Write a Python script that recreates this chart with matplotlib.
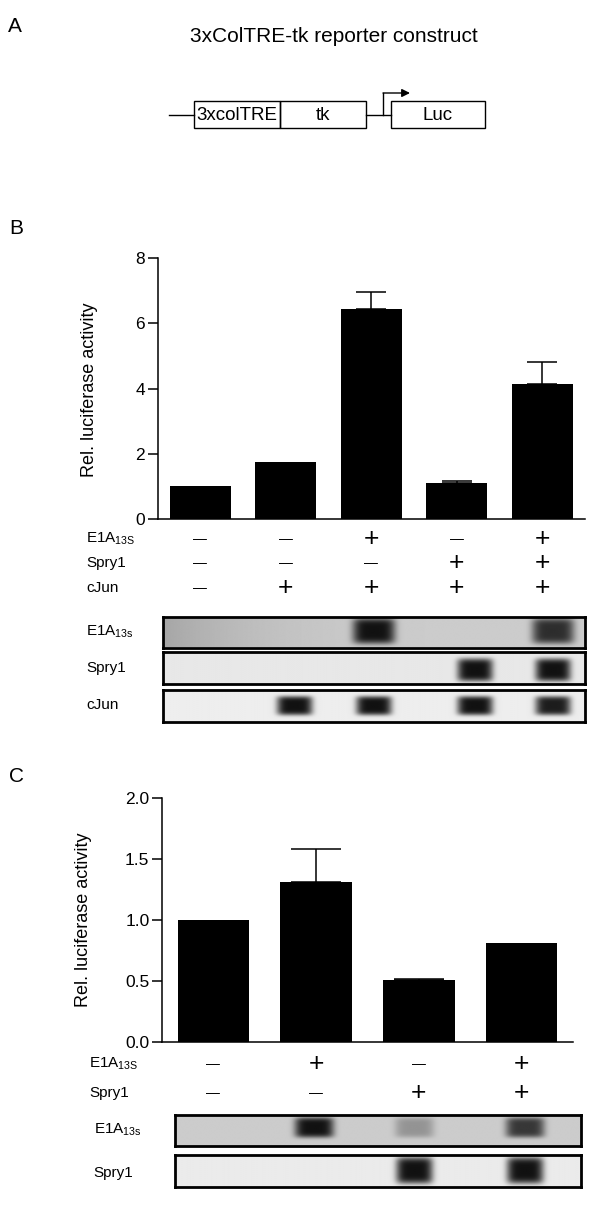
import numpy as np
import matplotlib
matplotlib.use("Agg")
import matplotlib.pyplot as plt
from matplotlib.patches import Rectangle
from matplotlib.transforms import blended_transform_factory

plt.rcParams['font.family'] = ['Liberation Sans', 'DejaVu Sans']
plt.rcParams['mathtext.fontset'] = 'custom'
plt.rcParams['mathtext.rm'] = 'Liberation Sans'

# panel B: luciferase with cJun
b_vals = [1.02, 1.74, 6.43, 1.12, 4.13]
b_err = [0, 0, 0.54, 0.04, 0.68]
b_rows = {
    r'E1A$_{\rm 13S}$': ['-', '-', '+', '-', '+'],
    'Spry1': ['-', '-', '-', '+', '+'],
    'cJun': ['-', '+', '+', '+', '+'],
}
# western blot band strength per lane (0 = no band)
b_blot_e1a = [0, 0, 1.0, 0, 0.85]
b_blot_spry = [0, 0, 0, 1.0, 1.0]
b_blot_cjun = [0, 1.0, 1.0, 1.0, 0.95]

# panel C: luciferase without cJun
c_vals = [1.0, 1.31, 0.51, 0.81]
c_err = [0, 0.27, 0.01, 0]
c_rows = {
    r'E1A$_{\rm 13S}$': ['-', '+', '-', '+'],
    'Spry1': ['-', '-', '+', '+'],
}
c_blot_e1a = [0, 1.0, 0.3, 0.8]
c_blot_spry = [0, 0, 1.0, 1.0]

W, H = 600, 1207
fig = plt.figure(figsize=(6, 12.07), dpi=100)


def rect(x0, y0, x1, y1):
    return [x0 / W, 1 - y1 / H, (x1 - x0) / W, (y1 - y0) / H]


# overlay in pixel coords for labels and the construct drawing
bg = fig.add_axes([0, 0, 1, 1])
bg.set_xlim(0, W)
bg.set_ylim(H, 0)
bg.axis('off')

for letter, (lx, ly) in zip('ABC', [(15, 26), (16, 229), (16, 776)]):
    bg.text(lx, ly, letter, fontsize=15, ha='center', va='center')

# --- A: reporter construct ---
bg.text(334, 36, '3xColTRE-tk reporter construct', fontsize=15, ha='center', va='center')
lw = 1.0
bg.plot([169, 194], [115, 115], color='k', lw=lw)
for x0, x1, name in [(194, 280, '3xcolTRE'), (280, 366, 'tk'), (391, 485, 'Luc')]:
    bg.add_patch(Rectangle((x0, 101), x1 - x0, 27, fill=False, lw=lw, ec='k'))
    bg.text((x0 + x1) / 2, 115, name, fontsize=13.5, ha='center', va='center')
bg.plot([366, 391], [115, 115], color='k', lw=lw)
bg.plot([383, 383], [115, 93], color='k', lw=lw)
bg.annotate('', xy=(410, 93), xytext=(383, 93),
            arrowprops=dict(arrowstyle='-|>', color='k', lw=lw, mutation_scale=12,
                            shrinkA=0, shrinkB=0))


def bar_panel(px, vals, errs, ymax, yticks, labels, width, capsize):
    ax = fig.add_axes(rect(*px))
    x = np.arange(len(vals))
    ax.bar(x, vals, width=width, color='black')
    idx = [i for i, e in enumerate(errs) if e > 0]
    ax.errorbar(x[idx], np.array(vals)[idx], yerr=[np.zeros(len(idx)), np.array(errs)[idx]],
                fmt='none', ecolor='black', elinewidth=1.1, capsize=capsize, capthick=1.1)
    ax.set_xlim(-0.5, len(vals) - 0.5)
    ax.set_ylim(0, ymax)
    ax.set_yticks(yticks)
    ax.set_yticklabels(labels)
    ax.set_xticks([])
    for s in ['top', 'right']:
        ax.spines[s].set_visible(False)
    for s in ['left', 'bottom']:
        ax.spines[s].set_linewidth(1.1)
    ax.tick_params(axis='y', direction='out', length=7, width=1.1, labelsize=12.5, pad=2)
    return ax


def sign_rows(ax, rows, label_x, ys):
    tr = blended_transform_factory(ax.transData, bg.transData)
    for (name, signs), y in zip(rows.items(), ys):
        bg.text(label_x, y, name, fontsize=11, ha='left', va='center')
        for i, s in enumerate(signs):
            if s == '+':
                ax.text(i, y, '+', fontsize=19, ha='center', va='center', transform=tr)
            else:
                ax.text(i, y, '\u2014', fontsize=10, ha='center', va='center', transform=tr)


def blot(px, lanes, strength, bg_level, band_w, band_h, band_y, shade=0.0, dark=0.07):
    ax = fig.add_axes(rect(*px))
    xx, yy = np.meshgrid(np.linspace(0, 1, 800), np.linspace(0, 1, 80))
    img = np.full(xx.shape, bg_level) - shade * (1 - xx) ** 4
    for c, s in zip(lanes, strength):
        if s > 0:
            blob = np.exp(-np.abs((xx - c) / band_w) ** 5 - np.abs((yy - band_y) / band_h) ** 5)
            img = img - (img - dark) * s * blob
    ax.imshow(img, cmap='gray', vmin=0, vmax=1, extent=[0, 1, 0, 1], aspect='auto',
              origin='lower', interpolation='bilinear')
    ax.set_xticks([])
    ax.set_yticks([])
    for sp in ax.spines.values():
        sp.set_linewidth(2)
    return ax


# --- B ---
axb = bar_panel((157.5, 258, 585, 519.3), b_vals, b_err, 8, [0, 2, 4, 6, 8],
                ['0', '2', '4', '6', '8'], 0.714, 11)
bg.text(89, 390, 'Rel. luciferase activity', fontsize=13, rotation=90, ha='center', va='center')
sign_rows(axb, b_rows, 86, [539, 563, 588])

lanes_b = [0.1, 0.312, 0.5, 0.74, 0.925]
blot((163, 617, 585, 647.5), lanes_b, b_blot_e1a, 0.8, 0.05, 0.42, 0.52, shade=0.15)
blot((163, 652, 585, 684), lanes_b, b_blot_spry, 0.91, 0.042, 0.36, 0.44)
blot((163, 690, 585, 721.5), lanes_b, b_blot_cjun, 0.93, 0.042, 0.3, 0.48)
bg.text(86, 632, r'E1A$_{\rm 13s}$', fontsize=11, ha='left', va='center')
bg.text(86, 668, 'Spry1', fontsize=11, ha='left', va='center')
bg.text(86, 705, 'cJun', fontsize=11, ha='left', va='center')

# --- C ---
axc = bar_panel((162, 797.7, 573, 1042.3), c_vals, c_err, 2.0, [0, 0.5, 1.0, 1.5, 2.0],
                ['0.0', '0.5', '1.0', '1.5', '2.0'], 0.695, 18)
bg.text(84, 920, 'Rel. luciferase activity', fontsize=13, rotation=90, ha='center', va='center')
sign_rows(axc, c_rows, 89, [1064, 1093])

lanes_c = [0.086, 0.343, 0.59, 0.863]
blot((175, 1115, 580.7, 1146), lanes_c, c_blot_e1a, 0.8, 0.048, 0.33, 0.6)
blot((175, 1155, 580.7, 1187), lanes_c, c_blot_spry, 0.92, 0.045, 0.42, 0.52)
bg.text(94, 1130, r'E1A$_{\rm 13s}$', fontsize=11, ha='left', va='center')
bg.text(93, 1173, 'Spry1', fontsize=11, ha='left', va='center')

fig.savefig('out.png', dpi=100)
